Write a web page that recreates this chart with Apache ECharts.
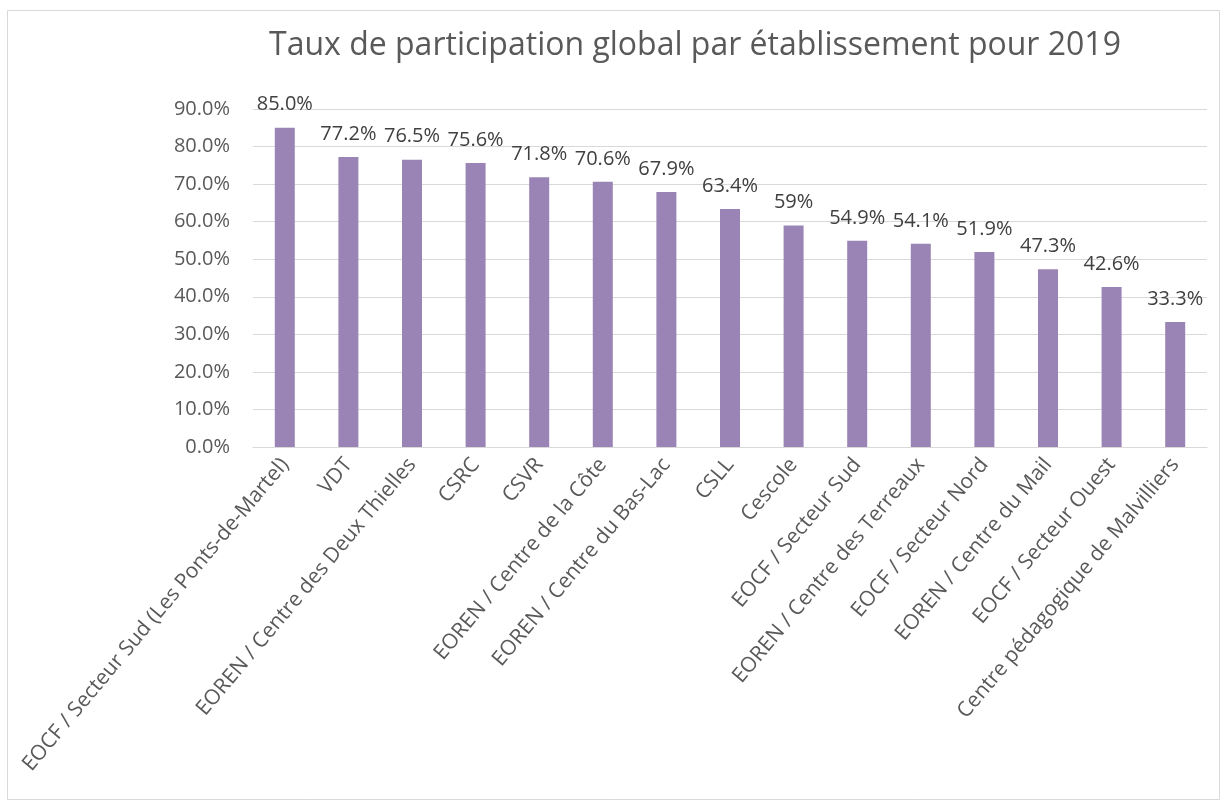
<!DOCTYPE html>
<html>
<head>
<meta charset="utf-8">
<script src="https://cdn.jsdelivr.net/npm/echarts@6/dist/echarts.min.js"></script>
<style>
  html, body { margin: 0; padding: 0; background: #fff; }
  #chart { width: 1227px; height: 805px; }
</style>
</head>
<body>
<div id="chart"></div>
<script>
// établissements
const categories = [
  "EOCF / Secteur Sud (Les Ponts-de-Martel)",
  "VDT",
  "EOREN / Centre des Deux Thielles",
  "CSRC",
  "CSVR",
  "EOREN / Centre de la Côte",
  "EOREN / Centre du Bas-Lac",
  "CSLL",
  "Cescole",
  "EOCF / Secteur Sud",
  "EOREN / Centre des Terreaux",
  "EOCF / Secteur Nord",
  "EOREN / Centre du Mail",
  "EOCF / Secteur Ouest",
  "Centre pédagogique de Malvilliers",
];
// taux en %
const values = [85.0, 77.2, 76.5, 75.6, 71.8, 70.6, 67.9, 63.4, 59, 54.9, 54.1, 51.9, 47.3, 42.6, 33.3];
// étiquettes telles qu'affichées
const labels = ["85.0%", "77.2%", "76.5%", "75.6%", "71.8%", "70.6%", "67.9%", "63.4%", "59%", "54.9%", "54.1%", "51.9%", "47.3%", "42.6%", "33.3%"];

const font = "'Open Sans', sans-serif";
const chart = echarts.init(document.getElementById("chart"));

const option = {
  animation: false,
  title: {
    text: "Taux de participation global par établissement pour 2019",
    left: 690,
    textAlign: "center",
    top: 25,
    textStyle: { fontFamily: font, fontSize: 32, fontWeight: "normal", color: "#595959" },
  },
  graphic: [
    {
      type: "rect",
      shape: { x: 7.5, y: 10.5, width: 1212, height: 789 },
      style: { fill: "none", stroke: "#d9d9d9", lineWidth: 1 },
      silent: true,
    },
  ],
  grid: { left: 253, right: 20, top: 109, bottom: 358, containLabel: false },
  xAxis: {
    type: "category",
    data: categories,
    axisLine: { lineStyle: { color: "#d9d9d9", width: 1 } },
    axisTick: { show: false },
    axisLabel: {
      interval: 0,
      rotate: 50,
      margin: 14,
      color: "#595959",
      fontFamily: font,
      fontSize: 21,
    },
  },
  yAxis: {
    type: "value",
    min: 0,
    max: 90,
    interval: 10,
    axisLine: { show: false },
    axisTick: { show: false },
    splitLine: { lineStyle: { color: "#d9d9d9", width: 1 } },
    axisLabel: {
      formatter: (v) => v.toFixed(1) + "%",
      margin: 23,
      color: "#595959",
      fontFamily: font,
      fontSize: 20,
    },
  },
  series: [
    {
      type: "bar",
      data: values,
      barWidth: 20,
      itemStyle: { color: "#9a84b5" },
      label: {
        show: true,
        position: "top",
        distance: 13,
        formatter: (p) => labels[p.dataIndex],
        color: "#404040",
        fontFamily: font,
        fontSize: 20,
      },
    },
  ],
};

chart.setOption(option);
</script>
</body>
</html>
